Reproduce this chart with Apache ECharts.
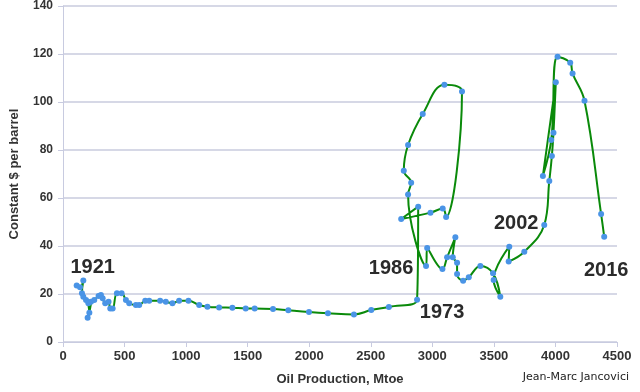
<!DOCTYPE html>
<html>
<head>
<meta charset="utf-8">
<script src="https://cdn.jsdelivr.net/npm/echarts@6/dist/echarts.min.js"></script>
<style>
html,body{margin:0;padding:0;background:#fff;}
#chart{width:640px;height:392px;}
</style>
</head>
<body>
<div id="chart"></div>
<script>
// Oil production (Mtoe), chronological order 1921 -> 2016
var production = [111,138,165,154,165,187,227,200,214,206,254,289,308,322,343,370,384,403,438,476,511,538,592,619,668,700,789,835,889,943,1019,1106,1173,1268,1376,1484,1557,1706,1830,1998,2152,2363,2504,2647,2876,2885,2747,2985,3084,3112,3241,3098,2922,2803,2768,2828,2803,2949,2958,3082,3120,3187,3166,3201,3201,3250,3296,3390,3493,3552,3498,3625,3620,3747,3909,3950,3971,3984,4003,3898,3966,4017,4120,4139,4236,4371,4396];
// Constant $ per barrel
var price = [23.5,22.8,25.6,20.3,18.9,17.5,16.8,10.1,12.2,16.1,17.5,19.2,19.6,18.2,16.1,16.8,14.0,14.0,20.3,20.3,17.5,16.1,15.4,15.4,17.2,17.2,17.2,16.8,16.1,17.2,17.2,15.4,14.7,14.4,14.3,14.0,14.0,13.75,13.2,12.5,12.0,11.5,13.3,14.6,17.6,56.4,51.25,53.9,55.6,52.1,104.4,107.2,95.0,82.1,71.4,66.4,61.5,31.7,39.2,30.4,35.3,43.6,35.3,33.0,28.3,25.5,27.0,31.7,28.6,18.9,25.8,39.7,33.5,37.6,48.75,67.1,77.5,87.2,108.2,69.2,84.2,118.9,116.4,111.9,100.5,53.3,43.9];
// Year annotations: index into the arrays
var yearLabels = ['1921','1973','1986','2002','2016'];
var yearIndex = [0,44,57,74,86];
var xTicks = [0,500,1000,1500,2000,2500,3000,3500,4000,4500];
var yTicks = [0,20,40,60,80,100,120,140];

var labelOffsets = {'1921':[16,-18],'1973':[25,13],'1986':[-35,3],'2002':[-28,-2],'2016':[2,34]};

var data = production.map(function(x,i){
  var item = {value:[x, price[i]]};
  var k = yearIndex.indexOf(i);
  if (k >= 0) {
    var name = yearLabels[k];
    item.label = {
      show:true, formatter:name, position:'inside', offset:labelOffsets[name],
      fontFamily:'Liberation Sans, Arial, sans-serif', fontWeight:'bold', fontSize:20, color:'#2b2b2b'
    };
  }
  return item;
});

var chart = echarts.init(document.getElementById('chart'), null, {renderer:'canvas'});
var axisFont = {fontFamily:'Liberation Sans, Arial, sans-serif', fontWeight:'bold', fontSize:12, color:'#333'};
chart.setOption({
  animation:false,
  backgroundColor:'#fff',
  title:{
    text:'Jean-Marc Jancovici', right:6, bottom:4,
    textStyle:{fontFamily:'DejaVu Sans, sans-serif', fontWeight:'normal', fontSize:11, color:'#222'}
  },
  grid:{left:62, right:23, top:6, bottom:50, containLabel:false},
  xAxis:{
    type:'value', min:xTicks[0], max:xTicks[xTicks.length-1], interval:500,
    name:'Oil Production, Mtoe', nameLocation:'middle', nameGap:31,
    nameTextStyle:{fontFamily:'Liberation Sans, Arial, sans-serif', fontWeight:'bold', fontSize:13, color:'#333'},
    axisLine:{show:true, lineStyle:{color:'#c8cbe0', width:1}},
    axisTick:{show:true, length:5, lineStyle:{color:'#c8cbe0'}},
    axisLabel:Object.assign({margin:8, fontSize:13, formatter:function(v){return String(v);}}, {fontFamily:axisFont.fontFamily, fontWeight:'bold', color:'#333'}),
    splitLine:{show:false}
  },
  yAxis:{
    type:'value', min:yTicks[0], max:yTicks[yTicks.length-1], interval:20,
    name:'Constant $ per barrel', nameLocation:'middle', nameGap:42, nameRotate:90,
    nameTextStyle:{fontFamily:'Liberation Sans, Arial, sans-serif', fontWeight:'bold', fontSize:13, color:'#333'},
    axisLine:{show:true, lineStyle:{color:'#c8cbe0', width:1}},
    axisTick:{show:true, length:5, lineStyle:{color:'#c8cbe0'}},
    axisLabel:Object.assign({margin:10, formatter:function(v){return String(v);}}, axisFont),
    splitLine:{show:true, lineStyle:{color:'#d6d8e6', width:2}}
  },
  series:[{
    type:'line',
    data:data,
    smooth:0.4,
    showSymbol:true,
    symbol:'circle',
    symbolSize:6,
    lineStyle:{color:'#0a8a0a', width:2},
    itemStyle:{color:'#4a94e6'},
    z:3
  }]
});
</script>
</body>
</html>
